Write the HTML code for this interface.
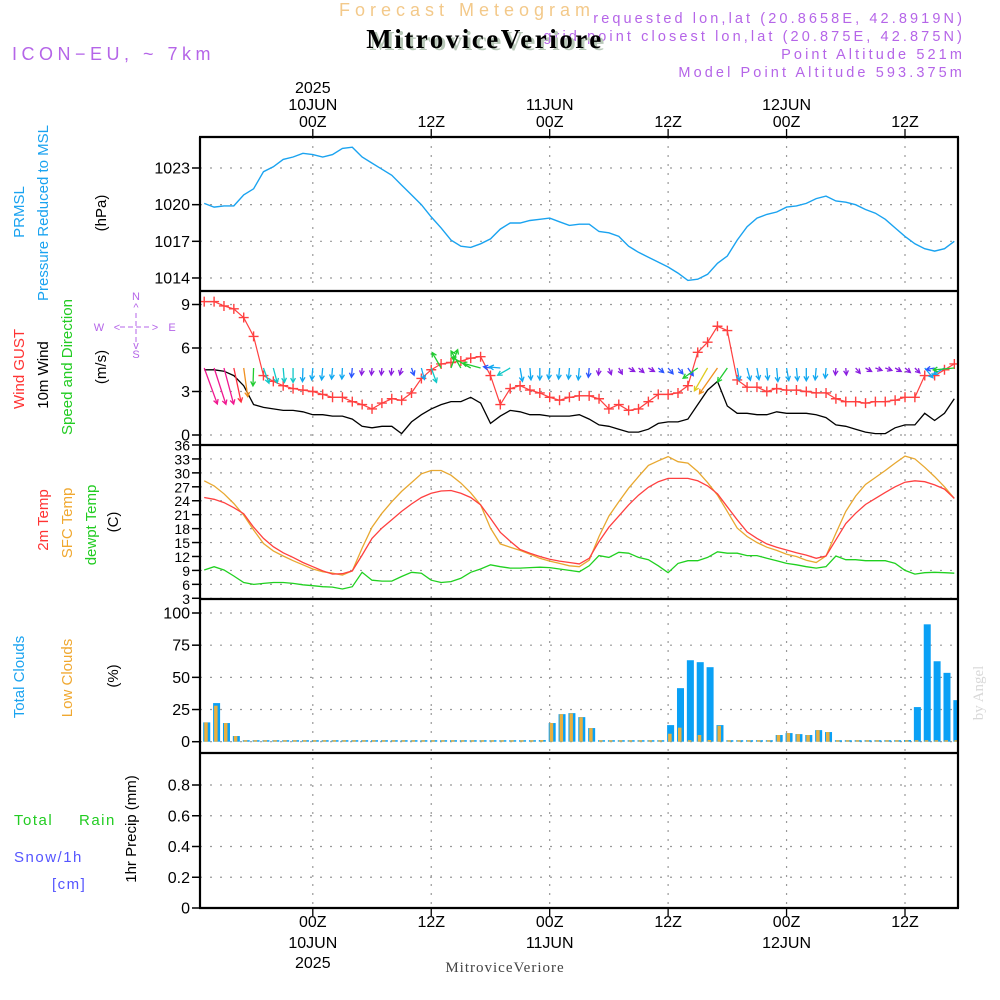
<!DOCTYPE html>
<html><head><meta charset="utf-8"><style>
html,body{margin:0;padding:0;background:#fff;}
svg{display:block;font-family:"Liberation Sans",sans-serif;}
</style></head><body>
<svg id="chart" width="1000" height="1000" viewBox="0 0 1000 1000" xmlns="http://www.w3.org/2000/svg">
<defs><clipPath id="plotclip"><rect x="200" y="137" width="758" height="771"/></clipPath></defs>
<g>
<text x="467" y="16" font-size="18" fill="#f3c98a" text-anchor="middle" letter-spacing="5">Forecast Meteogram</text>
<text x="965" y="23" font-size="14.5" fill="#b565e8" text-anchor="end" letter-spacing="3.1">requested lon,lat (20.8658E, 42.8919N)</text>
<text x="965" y="41" font-size="14.5" fill="#b565e8" text-anchor="end" letter-spacing="3.1">grid point closest lon,lat (20.875E, 42.875N)</text>
<text x="488" y="50" font-size="27" font-weight="bold" fill="#b8c8b8" text-anchor="middle" letter-spacing="2.5" font-family="Liberation Serif, serif">MitroviceVeriore</text>
<text x="485" y="48" font-size="27" font-weight="bold" fill="#000" text-anchor="middle" letter-spacing="2.5" font-family="Liberation Serif, serif">MitroviceVeriore</text>
<text x="12" y="60" font-size="18" fill="#b565e8" letter-spacing="4.5">ICON−EU, ~ 7km</text>
<text x="965" y="59" font-size="14.5" fill="#b565e8" text-anchor="end" letter-spacing="3.1">Point Altitude 521m</text>
<text x="965" y="77" font-size="14.5" fill="#b565e8" text-anchor="end" letter-spacing="3.1">Model Point Altitude 593.375m</text>
</g>
<g font-size="15">
<text transform="translate(24,212) rotate(-90)" text-anchor="middle" fill="#1aa3f0">PRMSL</text>
<text transform="translate(48,213) rotate(-90)" text-anchor="middle" fill="#1aa3f0">Pressure Reduced to MSL</text>
<text transform="translate(106,213) rotate(-90)" text-anchor="middle" fill="#000">(hPa)</text>
<text transform="translate(24,369) rotate(-90)" text-anchor="middle" fill="#ff3333">Wind GUST</text>
<text transform="translate(48,375) rotate(-90)" text-anchor="middle" fill="#000">10m Wind</text>
<text transform="translate(72,367) rotate(-90)" text-anchor="middle" fill="#22cc22">Speed and Direction</text>
<text transform="translate(106,367) rotate(-90)" text-anchor="middle" fill="#000">(m/s)</text>
<text transform="translate(48,520) rotate(-90)" text-anchor="middle" fill="#ff3333">2m Temp</text>
<text transform="translate(72,523) rotate(-90)" text-anchor="middle" fill="#f0a830">SFC Temp</text>
<text transform="translate(96,525) rotate(-90)" text-anchor="middle" fill="#22cc22">dewpt Temp</text>
<text transform="translate(118,522) rotate(-90)" text-anchor="middle" fill="#000">(C)</text>
<text transform="translate(24,677) rotate(-90)" text-anchor="middle" fill="#1aa3f0">Total Clouds</text>
<text transform="translate(72,678) rotate(-90)" text-anchor="middle" fill="#f0a830">Low Clouds</text>
<text transform="translate(118,676) rotate(-90)" text-anchor="middle" fill="#000">(%)</text>
<text transform="translate(136,829) rotate(-90)" text-anchor="middle" fill="#000">1hr Precip (mm)</text>
<text x="14" y="825" fill="#22cc22" letter-spacing="1.5">Total</text>
<text x="79" y="825" fill="#22cc22" letter-spacing="1.5">Rain</text>
<text x="14" y="862" fill="#5555ff" letter-spacing="1.5">Snow/1h</text>
<text x="52" y="889" fill="#5555ff" letter-spacing="1.5">[cm]</text>
</g>
<g fill="#b565e8" font-size="11" text-anchor="middle">
<text x="136" y="300">N</text><text x="136" y="311">^</text>
<line x1="136" y1="313" x2="136" y2="344" stroke="#b565e8" stroke-dasharray="5,3"/>
<line x1="120" y1="327" x2="151" y2="327" stroke="#b565e8" stroke-dasharray="5,3"/>
<text x="99" y="331">W</text><text x="117" y="331">&lt;</text><text x="155" y="331">&gt;</text><text x="172" y="331">E</text>
<text x="136" y="349">v</text><text x="136" y="358">S</text>
</g>
<text transform="translate(983,693) rotate(-90)" text-anchor="middle" font-size="15" fill="#d8d8d8" font-family="Liberation Serif, serif">by Angel</text>
<text x="505" y="972" font-size="15" fill="#444" text-anchor="middle" letter-spacing="1" font-family="Liberation Serif, serif">MitroviceVeriore</text>
<g id="grid"></g>
<g id="marks" clip-path="url(#plotclip)"></g>
<g id="axes"></g>
</svg>
<script>
// hours relative to 00Z 10JUN, start t=-11
const hourStart = -11;
const pressure = [1020.1,1019.8,1019.9,1019.9,1020.8,1021.3,1022.7,1023.1,1023.7,1023.9,1024.2,1024.1,1023.9,1024.1,1024.6,1024.7,1023.9,1023.4,1022.9,1022.4,1021.6,1020.8,1020.0,1019.0,1018.1,1017.1,1016.6,1016.5,1016.8,1017.2,1018.0,1018.5,1018.5,1018.7,1018.8,1018.9,1018.6,1018.3,1018.4,1018.4,
1017.8,1017.7,1017.4,1016.6,1016.1,1015.7,1015.3,1014.9,1014.4,1013.8,1013.9,1014.3,1015.2,1015.8,1017.1,1018.2,1018.9,1019.2,1019.4,1019.8,1019.9,1020.1,1020.5,1020.7,1020.3,1020.2,1020.0,1019.6,1019.3,1018.8,1018.1,1017.4,1016.8,1016.4,1016.2,1016.4,1017.0];
const windGust = [9.2,9.2,8.9,8.7,8.1,6.8,4.1,3.7,3.4,3.2,3.1,3.0,2.8,2.6,2.6,2.3,2.1,1.8,2.2,2.5,2.4,2.9,3.9,4.5,4.9,5.0,5.1,5.3,5.4,4.1,2.1,3.2,3.4,3.1,2.9,2.6,2.4,2.6,2.7,2.7,
2.5,1.8,2.1,1.7,1.8,2.3,2.8,2.8,2.9,3.4,5.7,6.4,7.5,7.2,3.8,3.3,3.3,3.0,3.2,3.1,3.1,3.0,2.9,2.9,2.5,2.3,2.3,2.2,2.3,2.3,2.4,2.6,2.6,4.1,4.1,4.5,4.9];
const windSpeed = [4.5,4.5,4.4,4.1,3.4,2.1,1.9,1.8,1.7,1.7,1.6,1.4,1.4,1.3,1.3,1.1,0.6,0.5,0.6,0.6,0.1,0.9,1.4,1.8,2.1,2.3,2.3,2.6,2.2,0.8,1.3,1.7,1.6,1.4,1.4,1.3,1.3,1.3,1.4,1.1,
0.7,0.6,0.4,0.2,0.2,0.4,0.8,0.9,0.9,1.1,2.1,3.1,3.7,2.0,1.5,1.5,1.4,1.4,1.6,1.5,1.5,1.5,1.4,1.2,0.7,0.6,0.4,0.2,0.1,0.1,0.5,0.7,0.7,1.5,1.0,1.5,2.5];
const windDir = [340,342,345,348,352,2,340,345,355,0,2,5,5,5,3,5,5,5,5,5,
15,340,345,340,150,200,150,120,105,100,95,60,350,355,0,5,5,5,5,5,
5,340,330,300,310,300,310,320,320,325,55,30,35,35,350,345,350,355,355,350,355,0,5,5,5,355,320,300,290,290,300,310,315,320,80,60,85];
const temp2m = [24.7,24.3,23.6,22.5,21.2,18.3,15.9,14.1,12.8,11.8,10.7,9.8,8.9,8.2,8.3,8.9,12.3,15.9,18.1,19.9,21.7,23.3,24.7,25.6,26.1,26.2,25.6,24.7,23.1,20.2,17.2,15.3,13.5,12.7,12.0,11.4,11.0,10.7,10.4,11.6,
15.2,18.3,20.7,23.1,25.2,26.9,28.1,28.8,28.8,28.8,28.3,27.2,25.5,22.7,19.9,17.3,15.9,14.7,14.0,13.4,12.8,12.3,11.6,12.1,15.6,19.1,21.3,23.2,24.5,25.8,27.0,28.0,28.3,28.1,27.4,26.5,24.5];
const tempSfc = [28.3,27.2,25.5,23.4,20.9,17.7,14.8,13.2,12.1,11.1,10.2,9.3,8.7,8.4,8.0,8.9,13.8,18.3,21.3,23.8,26.0,27.9,29.8,30.5,30.5,29.5,27.8,25.7,23.1,18.1,14.7,14.0,13.3,12.5,11.6,11.0,10.5,10.0,9.8,11.2,
16.3,20.7,23.8,26.7,29.2,31.6,32.6,33.5,32.4,32.1,30.3,27.9,25.2,21.7,18.1,16.3,15.0,14.0,13.3,12.5,12.0,11.2,10.7,12.1,17.0,21.7,25.0,27.5,29.0,30.5,32.1,33.6,33.0,31.2,29.2,27.0,24.5];
const dewpoint = [9.1,9.8,9.1,7.8,6.4,6.0,6.2,6.4,6.4,6.2,5.9,5.7,5.5,5.4,5.0,5.5,8.6,6.9,6.7,6.7,7.7,8.6,8.4,6.9,6.4,6.6,7.3,8.6,9.3,10.2,9.8,9.5,9.5,9.6,9.7,9.6,9.3,9.0,8.7,10.0,
12.2,11.8,12.9,12.7,11.8,11.3,10.0,8.5,10.5,11.1,11.1,11.8,13.0,12.7,12.7,12.2,12.2,11.6,11.1,10.5,10.2,9.8,9.5,9.8,12.1,11.3,11.3,11.1,11.1,11.1,10.5,9.0,8.2,8.5,8.6,8.5,8.4];
const totalClouds = [15,30,14.5,4.4,0,0,0,0,0,0,0,0,0,0,0,0,0,0,0,0,0,0,0,0,0,0,0,0,0,0,0,0,0,0,1.3,14.5,21.4,22.2,19.1,10.6,
0,0,0,0,0,0,0,12.9,41.6,63.3,61.8,57.9,12.9,0,0,0,0,0,5.2,6.7,5.9,5.2,9.0,7.5,0,0,0,0,0,0,0,1.3,26.9,91.2,62.5,53.5,32.3];
const lowClouds = [15,28,14.5,4.4,0,0,0,0,0,0,0,0,0,0,0,0,0,0,0,0,0,0,0,0,0,0,0,0,0,0,0,0,0,0,1.3,14.5,21.4,22,19,10.6,
0,0,0,0,0,0,0,6.2,10.9,0,5.2,1.3,12.4,0,0,0,0,0,5.2,6.7,5.9,5.2,9.0,7.5,0,0,0,0,0,0,0,0,0,0,0,0,0];
const precip = new Array(77).fill(0);
const timeTicks = [0,12,24,36,48,60];
const timeLabels = ["00Z","12Z","00Z","12Z","00Z","12Z"];
const dateLabels = ["10JUN","","11JUN","","12JUN",""];
const pressureTicks = [1014,1017,1020,1023];
const windTicks = [0,3,6,9];
const tempTicks = [3,6,9,12,15,18,21,24,27,30,33,36];
const cloudTicks = [0,25,50,75,100];
const precipTicks = [0,0.2,0.4,0.6,0.8];
const precipTickLabels = ["0","0.2","0.4","0.6","0.8"];

const NS="http://www.w3.org/2000/svg";
const X = t => 312.8 + 9.87*t;
const yP = v => 168 + (1023-v)*12.22;
const yW = v => 435 - v*14.5;
const yT = v => 445 + (36-v)*4.645;
const yC = v => 741.7 - v*1.287;
const yR = v => 908 - v*153.75;
const L=200,R=958;
const grid=document.getElementById('grid'), marks=document.getElementById('marks'), axes=document.getElementById('axes');
function mk(tag,attrs,parent){const e=document.createElementNS(NS,tag);for(const k in attrs)e.setAttribute(k,attrs[k]);parent.appendChild(e);return e;}
function txt(s,attrs,parent){const e=mk('text',attrs,parent);e.textContent=s;return e;}

timeTicks.forEach((t,i)=>{
  const l=mk('line',{x1:X(t),x2:X(t),y1:137,y2:908,stroke:'#999','stroke-dasharray':'2,7','stroke-width':1.2},grid);
  
  
});
function hgrid(ticks,f,lbls,name,fs){
  ticks.forEach((v,i)=>{
    const y=f(v);
    const g=mk('line',{x1:L,x2:R,y1:y,y2:y,stroke:'#999','stroke-dasharray':'2,8','stroke-width':1.2},grid);
    
    
    mk('line',{x1:192,x2:200,y1:y,y2:y,stroke:'#000','stroke-width':1.5},axes);
    const tl=txt(lbls?lbls[i]:String(v),{x:190,y:y+5.5,'font-size':fs||16,'text-anchor':'end',fill:'#000'},axes);
    
    
  });
}
hgrid(pressureTicks,yP,null,'pressure');
hgrid(windTicks,yW,null,'wind');
hgrid(tempTicks,yT,null,'temp',14);
hgrid(cloudTicks,yC,null,'cloud');
hgrid(precipTicks,yR,precipTickLabels,'precip');

[137,291,445,599,753,908].forEach(y=>{mk('line',{x1:L-1,x2:R+1,y1:y,y2:y,stroke:'#000','stroke-width':2.2},axes);});
mk('line',{x1:L,x2:L,y1:137,y2:908,stroke:'#000','stroke-width':2.2},axes);
mk('line',{x1:R,x2:R,y1:137,y2:908,stroke:'#000','stroke-width':2.2},axes);

timeTicks.forEach((t,i)=>{
  const x=X(t);
  mk('line',{x1:x,x2:x,y1:129,y2:137,stroke:'#000','stroke-width':1.3},axes);
  mk('line',{x1:x,x2:x,y1:908,y2:916,stroke:'#000','stroke-width':1.3},axes);
  const a=txt(timeLabels[i],{x:x,y:127,'font-size':16,'text-anchor':'middle',fill:'#000'},axes);
  
  
  const b=txt(timeLabels[i],{x:x,y:927,'font-size':16,'text-anchor':'middle',fill:'#000'},axes);
  
  
  if(dateLabels[i]){
    const c=txt(dateLabels[i],{x:x,y:110,'font-size':16,'text-anchor':'middle',fill:'#000'},axes);
    
    
    const d=txt(dateLabels[i],{x:x,y:948,'font-size':16,'text-anchor':'middle',fill:'#000'},axes);
    
    
  }
});
const y1=txt('2025',{x:X(0),y:93,'font-size':16,'text-anchor':'middle',fill:'#000'},axes);


const y2=txt('2025',{x:X(0),y:968,'font-size':16,'text-anchor':'middle',fill:'#000'},axes);



function line(arr,f,color,name,w){
  const pts=arr.map((v,i)=>X(hourStart+i).toFixed(1)+','+f(v).toFixed(1)).join(' ');
  const p=mk('polyline',{points:pts,fill:'none',stroke:color,'stroke-width':w||1.3},marks);
  
  
}
totalClouds.forEach((v,i)=>{
  const x=X(hourStart+i)+2.5, y=yC(v), h=Math.max(1.5,741.7-y);
  const b=mk('rect',{x:x-3.5,y:741.7-h,width:7,height:h,fill:'#0aa0f5'},marks);
  
  
});
lowClouds.forEach((v,i)=>{
  const x=X(hourStart+i)+2.5, y=yC(v), h=Math.max(1.5,741.7-y);
  const b=mk('rect',{x:x-2.5,y:741.7-h,width:3.5,height:h,fill:'#e8b040'},marks);
  
  
});
precip.forEach((v,i)=>{
  const x=X(hourStart+i);
  const b=mk('rect',{x:x-3,y:yR(v)-1,width:6,height:Math.max(1,908-yR(v)),fill:'#222'},marks);
  
  
});
line(pressure,yP,'#1aa3f0','pressure-line',1.4);
line(tempSfc,yT,'#e8a830','sfc-temp-line');
line(temp2m,yT,'#ff4040','temp-2m-line');
line(dewpoint,yT,'#20d020','dewpoint-line');
line(windSpeed,yW,'#000','wind-speed-line');
line(windGust,yW,'#ff4040','wind-gust-line',1.2);
windGust.forEach((v,i)=>{
  const x=X(hourStart+i), y=yW(v);
  const p=mk('path',{d:`M${x-5},${y}h10M${x},${y-5}v10`,stroke:'#ff4040','stroke-width':1.4},marks);
  
  
});
function windColor(s){
  if(s<0.8)return '#8a1de0'; if(s<1.2)return '#2a55ff'; if(s<1.7)return '#12a8f0';
  if(s<2.0)return '#10c8c8'; if(s<2.8)return '#20cc30'; if(s<3.2)return '#e0cc20';
  if(s<3.8)return '#f09020'; if(s<4.3)return '#ff3040'; return '#f01890';
}
windDir.forEach((d,i)=>{
  const s=windSpeed[i], len=Math.max(7,s*8.5);
  const to=(d+180)*Math.PI/180;
  const x0=X(hourStart+i), y0=368;
  const dx=Math.sin(to), dy=-Math.cos(to);
  const x1=x0+dx*len, y1=y0+dy*len;
  const hl=5, a=0.5;
  const bx=-dx, by=-dy;
  const h1x=x1+hl*(bx*Math.cos(a)-by*Math.sin(a)), h1y=y1+hl*(bx*Math.sin(a)+by*Math.cos(a));
  const h2x=x1+hl*(bx*Math.cos(-a)-by*Math.sin(-a)), h2y=y1+hl*(bx*Math.sin(-a)+by*Math.cos(-a));
  const c=windColor(s);
  const p=mk('path',{d:`M${x0},${y0}L${x1},${y1}M${h1x},${h1y}L${x1},${y1}L${h2x},${h2y}`,stroke:c,'stroke-width':1.3,fill:'none'},marks);
  
  
});
</script>
</body></html>
